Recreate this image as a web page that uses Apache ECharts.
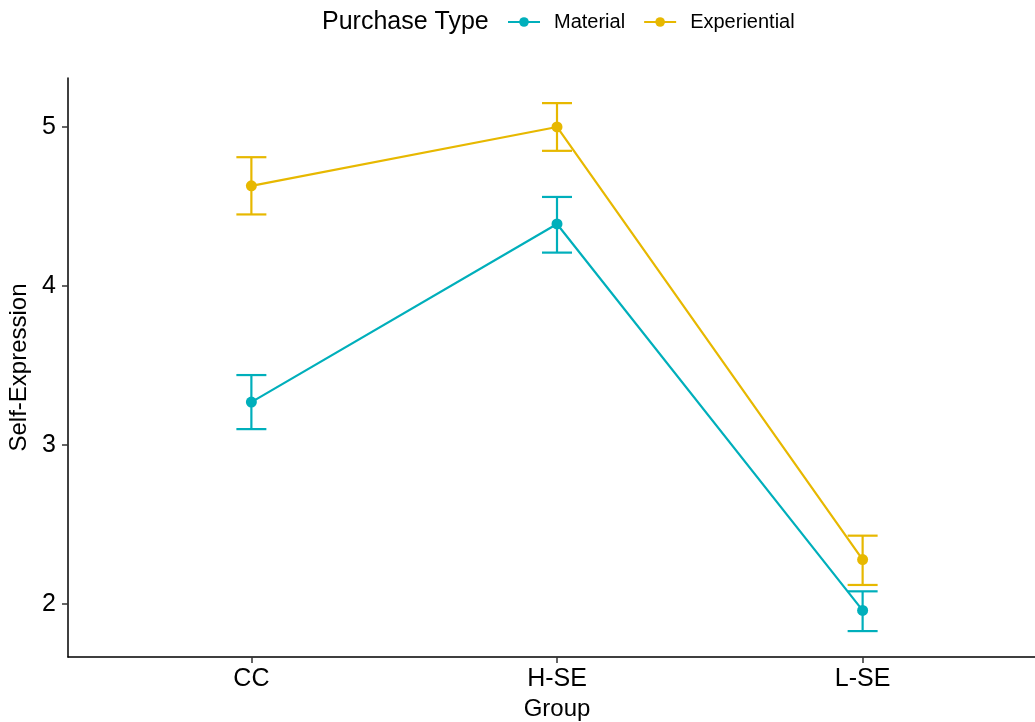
<!DOCTYPE html>
<html>
<head>
<meta charset="utf-8">
<script src="https://cdn.jsdelivr.net/npm/echarts@6/dist/echarts.min.js"></script>
<style>
html,body{margin:0;padding:0;background:#fff;}
#chart{width:1035px;height:722px;}
</style>
</head>
<body>
<div id="chart"></div>
<script>
const categories = ['CC', 'H-SE', 'L-SE'];
const seriesNames = ['Material', 'Experiential'];
const materialMean = [3.27, 4.39, 1.96];
const materialLower = [3.10, 4.21, 1.83];
const materialUpper = [3.44, 4.56, 2.08];
const experientialMean = [4.63, 5.00, 2.28];
const experientialLower = [4.45, 4.85, 2.12];
const experientialUpper = [4.81, 5.15, 2.43];
const yTicks = [2, 3, 4, 5];
const colors = ['#00AFBB', '#E7B800'];

const FONT = 'Liberation Sans, Arial, Helvetica, sans-serif';
const xTicks = categories.map((c, i) => i + 1);

function pts(means) { return means.map((v, i) => [i + 1, v]); }
function bars(lo, hi) { return lo.map((v, i) => [i + 1, v, hi[i]]); }

function errRender(color) {
  return function (params, api) {
    const x = api.value(0), lo = api.value(1), hi = api.value(2);
    const a = api.coord([x, lo]);
    const b = api.coord([x, hi]);
    const hw = 15;
    const st = { stroke: color, lineWidth: 2.2 };
    return {
      type: 'group',
      children: [
        { type: 'line', shape: { x1: a[0], y1: a[1], x2: b[0], y2: b[1] }, style: st },
        { type: 'line', shape: { x1: a[0] - hw, y1: a[1], x2: a[0] + hw, y2: a[1] }, style: st },
        { type: 'line', shape: { x1: b[0] - hw, y1: b[1], x2: b[0] + hw, y2: b[1] }, style: st }
      ]
    };
  };
}

const chart = echarts.init(document.getElementById('chart'));
chart.setOption({
  animation: false,
  backgroundColor: '#fff',
  title: {
    text: 'Purchase Type',
    left: 317, top: 5,
    textStyle: { fontFamily: FONT, fontSize: 25, fontWeight: 'normal', color: '#000' }
  },
  legend: {
    data: seriesNames,
    left: 502, top: 7,
    itemWidth: 32, itemHeight: 12, itemGap: 18,
    textStyle: { fontFamily: FONT, fontSize: 20, color: '#000', padding: [0, 0, 0, 9] }
  },
  grid: { left: 68, top: 78, width: 978, height: 579, containLabel: false, outerBoundsMode: 'none' },
  xAxis: {
    type: 'value', min: 0.4, max: 3.6,
    name: 'Group', nameLocation: 'middle', nameGap: 40,
    nameTextStyle: { fontFamily: FONT, fontSize: 24, color: '#000' },
    axisLine: { show: true, lineStyle: { color: '#000', width: 1.5 } },
    axisTick: { show: true, customValues: xTicks, length: 6, lineStyle: { color: '#333', width: 1.5 } },
    axisLabel: {
      customValues: xTicks, margin: 10,
      fontFamily: FONT, fontSize: 25, color: '#000',
      formatter: v => categories[Math.round(v) - 1]
    },
    splitLine: { show: false }
  },
  yAxis: {
    type: 'value', min: 1.667, max: 5.308,
    name: 'Self-Expression', nameLocation: 'middle', nameGap: 34, nameRotate: 90,
    nameTextStyle: { fontFamily: FONT, fontSize: 24, color: '#000' },
    axisLine: { show: true, lineStyle: { color: '#000', width: 1.5 } },
    axisTick: { show: true, customValues: yTicks, length: 6, lineStyle: { color: '#333', width: 1.5 } },
    axisLabel: {
      customValues: yTicks, margin: 12,
      fontFamily: FONT, fontSize: 25, color: '#000'
    },
    splitLine: { show: false }
  },
  series: [
    {
      type: 'custom', name: 'Material-err', renderItem: errRender(colors[0]),
      data: bars(materialLower, materialUpper), encode: { x: 0, y: [1, 2] }, silent: true, z: 1
    },
    {
      type: 'custom', name: 'Experiential-err', renderItem: errRender(colors[1]),
      data: bars(experientialLower, experientialUpper), encode: { x: 0, y: [1, 2] }, silent: true, z: 1
    },
    {
      type: 'line', name: seriesNames[0], data: pts(materialMean), color: colors[0],
      symbol: 'circle', symbolSize: 11, lineStyle: { width: 2.2 }, z: 3
    },
    {
      type: 'line', name: seriesNames[1], data: pts(experientialMean), color: colors[1],
      symbol: 'circle', symbolSize: 11, lineStyle: { width: 2.2 }, z: 3
    }
  ]
});
</script>
</body>
</html>
